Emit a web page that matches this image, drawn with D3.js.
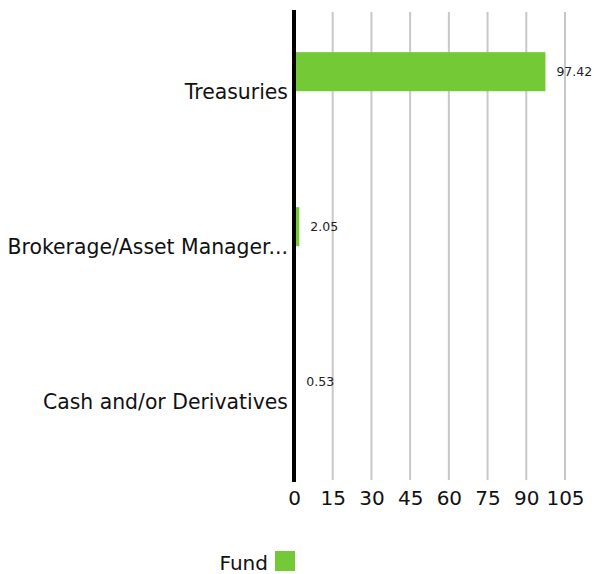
<!DOCTYPE html>
<html>
<head>
<meta charset="utf-8">
<script src="https://cdn.jsdelivr.net/npm/d3@7"></script>
<style>
  body { margin: 0; background: #fff; }
  text { font-family: "DejaVu Sans", sans-serif; }
</style>
</head>
<body>
<div id="chart"></div>
<script>
var categories = ["Treasuries", "Brokerage/Asset Manager...", "Cash and/or Derivatives"];
var fundValues = [97.42, 2.05, 0.53];
var tickValues = [0, 15, 30, 45, 60, 75, 90, 105];
var seriesName = "Fund";

var width = 594, height = 574;
var x0 = 294, plotTop = 12, plotBottom = 477;

var svg = d3.select('#chart').append('svg')
    .attr('width', width)
    .attr('height', height);

var x = d3.scaleLinear().domain([0, 105]).range([x0, 565]);
var y = d3.scaleBand().domain(categories).range([plotTop, plotBottom]);

// grid lines
svg.append('g').selectAll('line')
    .data(tickValues.slice(1))
    .enter().append('line')
    .attr('x1', function (d) { return x(d); })
    .attr('x2', function (d) { return x(d); })
    .attr('y1', 12)
    .attr('y2', 480)
    .style('stroke', '#c8c8c8')
    .style('stroke-width', 2);

// bars
svg.append('g').selectAll('rect')
    .data(fundValues)
    .enter().append('rect')
    .attr('x', x(0))
    .attr('y', function (d, i) { return y(categories[i]) + y.bandwidth() * 0.259; })
    .attr('width', function (d) { return x(d) - x(0); })
    .attr('height', y.bandwidth() * 0.252)
    .attr('fill', '#74c936');

// value labels
svg.append('g').selectAll('text')
    .data(fundValues)
    .enter().append('text')
    .attr('x', function (d) { return x(d) + 11; })
    .attr('y', function (d, i) { return y(categories[i]) + y.bandwidth() * 0.385; })
    .attr('dy', '0.35em')
    .style('font-size', '12.5px')
    .style('fill', '#222')
    .text(function (d) { return d.toFixed(2); });

// zero axis line
svg.append('line')
    .attr('x1', x(0)).attr('x2', x(0))
    .attr('y1', 10).attr('y2', 482)
    .style('stroke', '#000')
    .style('stroke-width', 4);

// category labels
var yAxis = d3.axisLeft(y).tickSize(0).tickPadding(6);
var gy = svg.append('g')
    .attr('transform', 'translate(' + x0 + ',3)')
    .call(yAxis);
gy.select('.domain').remove();
gy.selectAll('text')
    .style('font-size', '20.4px')
    .style('fill', '#111');

// x tick labels
var xAxis = d3.axisBottom(x).tickValues(tickValues).tickSize(0).tickPadding(0);
var gx = svg.append('g')
    .attr('transform', 'translate(0,491)')
    .call(xAxis);
gx.select('.domain').remove();
gx.selectAll('text')
    .style('font-size', '20px')
    .style('fill', '#111');

// legend
var legend = svg.append('g');
legend.append('text')
    .attr('x', 268).attr('y', 563)
    .attr('dy', '0.35em')
    .attr('text-anchor', 'end')
    .style('font-size', '20px')
    .style('fill', '#111')
    .text(seriesName);
legend.append('rect')
    .attr('x', 275).attr('y', 551)
    .attr('width', 20).attr('height', 20)
    .attr('fill', '#74c936');
</script>
</body>
</html>
